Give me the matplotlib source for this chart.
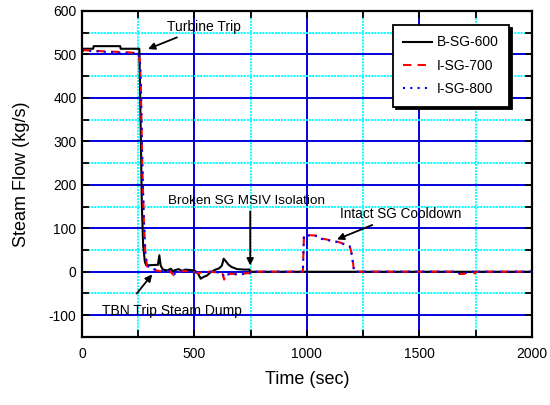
import numpy as np
import matplotlib
matplotlib.use("Agg")
import matplotlib.pyplot as plt
from matplotlib.ticker import MultipleLocator

plt.rcParams['font.family'] = ['Liberation Sans', 'DejaVu Sans']
plt.rcParams['axes.unicode_minus'] = False

# B-SG-600 (solid black)
t_b = [0, 50, 52, 170, 172, 255, 258, 262, 266, 272, 280, 286, 300, 338, 344, 350, 360,
       380, 395, 405, 415, 430, 445, 460, 480, 500, 515, 528, 540, 555, 570, 590,
       610, 622, 630, 640, 652, 665, 690, 720, 745, 748, 2000]
v_b = [513, 513, 519, 519, 513, 513, 430, 300, 160, 60, 22, 15, 15, 16, 38, 14, 5,
       3, 7, 1, 4, 6, 2, 5, 4, 3, -3, -16, -12, -9, -2, 4,
       8, 14, 30, 24, 16, 11, 6, 5, 5, 0, 0]

# I-SG-700 (dashed red)
t_r = [0, 100, 200, 252, 258, 262, 268, 275, 282, 290, 310, 330, 360, 390, 408, 418,
       430, 460, 490, 520, 540, 570, 610, 625, 632, 640, 660, 700, 745, 750,
       982, 987, 1050, 1060, 1110, 1130, 1190, 1200, 1210, 1670, 1680, 1700,
       1712, 1740, 1745, 1755, 2000]
v_r = [510, 507, 505, 503, 480, 420, 250, 120, 40, 12, 8, 3, 0, 2, -8, -3,
       0, 2, 0, -3, 0, 0, -2, -5, -18, -6, -5, -5, -3, 0,
       0, 85, 83, 77, 72, 70, 60, 40, 0, 0, -5, -5,
       0, 0, -4, 0, 0]

# I-SG-800 (dotted blue)
t_i = [0, 100, 200, 252, 258, 262, 268, 275, 282, 290, 310, 330, 360, 390, 408, 418,
       430, 460, 490, 520, 540, 570, 610, 625, 632, 640, 660, 700, 745, 750,
       982, 987, 1050, 1060, 1110, 1130, 1190, 1200, 1210, 1670, 1680, 1700,
       1712, 1740, 1745, 1755, 2000]
v_i = [509, 506, 503, 502, 485, 430, 260, 125, 42, 13, 9, 4, 1, 2, -7, -2,
       0, 1, 0, -2, 0, 0, -2, -4, -12, -6, -6, -6, -4, 0,
       0, 84, 82, 76, 71, 69, 59, 38, 0, 0, -5, -5,
       0, 0, -3, 0, 0]

fig = plt.figure(figsize=(5.5, 4.05), dpi=100)
ax = fig.add_axes([0.149, 0.168, 0.818, 0.805])

ax.set_xlim(0, 2000)
ax.set_ylim(-150, 600)
ax.xaxis.set_major_locator(MultipleLocator(500))
ax.xaxis.set_minor_locator(MultipleLocator(250))
ax.yaxis.set_major_locator(MultipleLocator(100))
ax.yaxis.set_minor_locator(MultipleLocator(50))

ax.grid(which='minor', color='cyan', linestyle=(0, (1, 0.6)), linewidth=1.4)
ax.grid(which='major', color='#0000dd', linestyle='-', linewidth=1.4)
ax.set_axisbelow(True)

ax.plot(t_b, v_b, color='black', lw=1.5, label='B-SG-600')
ax.plot(t_r, v_r, color='red', lw=1.5, ls=(0, (4, 3)), label='I-SG-700')
ax.plot(t_i, v_i, color='blue', lw=1.5, ls=(0, (1, 2.5)), label='I-SG-800')

for s in ax.spines.values():
    s.set_linewidth(1.6)
ax.tick_params(which='both', direction='in', top=True, right=True, width=1.3,
               labelsize=10, length=5)
ax.tick_params(axis='x', pad=7)
ax.tick_params(axis='y', pad=4)

ax.set_xlabel('Time (sec)', fontsize=13)
ax.set_ylabel('Steam Flow (kg/s)', fontsize=13)
ax.xaxis.set_label_coords(0.5, -0.105)
ax.yaxis.set_label_coords(-0.115, 0.5)

arrow = dict(arrowstyle='-|>', color='black', lw=1.3, mutation_scale=10)
ax.annotate('Turbine Trip', xy=(282, 510), xytext=(378, 564), fontsize=10,
            arrowprops=arrow, ha='left', va='center')
ax.annotate('', xy=(748, 8), xytext=(748, 145), arrowprops=arrow)
ax.text(382, 163, 'Broken SG MSIV Isolation', fontsize=9.7, ha='left', va='center')
ax.annotate('', xy=(1122, 72), xytext=(1302, 110), arrowprops=arrow)
ax.text(1147, 133, 'Intact SG Cooldown', fontsize=9.8, ha='left', va='center')
ax.annotate('', xy=(320, -1), xytext=(236, -55), arrowprops=arrow)
ax.text(89, -90, 'TBN Trip Steam Dump', fontsize=10, ha='left', va='center')

leg = ax.legend(loc='upper right', bbox_to_anchor=(0.949, 0.957), fontsize=10,
                fancybox=False, edgecolor='black', framealpha=1,
                shadow={'color': 'black', 'alpha': 1}, handlelength=2.1,
                handletextpad=0.3, borderpad=0.75, labelspacing=0.68,
                borderaxespad=0)
leg.get_frame().set_linewidth(1.3)

fig.savefig('out.png', dpi=100)
